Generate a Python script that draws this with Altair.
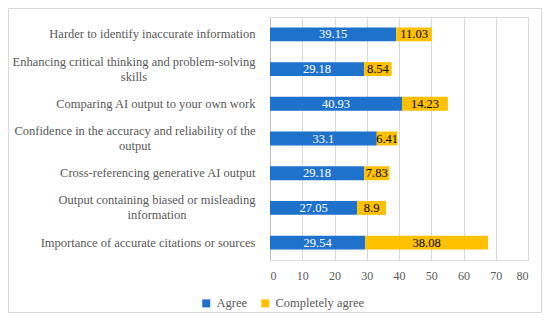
import altair as alt
import pandas as pd

categories = [
    "Harder to identify inaccurate information",
    "Enhancing critical thinking and problem-solving skills",
    "Comparing AI output to your own work",
    "Confidence in the accuracy and reliability of the output",
    "Cross-referencing generative AI output",
    "Output containing biased or misleading information",
    "Importance of accurate citations or sources",
]
agree = [39.15, 29.18, 40.93, 33.1, 29.18, 27.05, 29.54]
completely_agree = [11.03, 8.54, 14.23, 6.41, 7.83, 8.9, 38.08]
series = ["Agree", "Completely agree"]
x_ticks = [0, 10, 20, 30, 40, 50, 60, 70, 80]

wrapped = {
    "Enhancing critical thinking and problem-solving skills": ["Enhancing critical thinking and problem-solving", "skills"],
    "Confidence in the accuracy and reliability of the output": ["Confidence in the accuracy and reliability of the", "output"],
    "Output containing biased or misleading information": ["Output containing biased or misleading", "information"],
}
# label padding that centres a wrapped label block against the right edge
wrapped_pad = {
    "Enhancing critical thinking and problem-solving skills": 136.5,
    "Confidence in the accuracy and reliability of the output": 135.5,
    "Output containing biased or misleading information": 113.5,
}

rows = []
for c, a, ca in zip(categories, agree, completely_agree):
    rows.append({"category": c, "series": series[0], "value": a, "order": 0})
    rows.append({"category": c, "series": series[1], "value": ca, "order": 1})
df = pd.DataFrame(rows)

label_expr = ""
for k, v in wrapped.items():
    label_expr += f"datum.value == '{k}' ? ['{v[0]}', '{v[1]}'] : "
label_expr += "datum.value"
multi_test = " || ".join(f"datum.value == '{k}'" for k in wrapped)

FONT = "'Liberation Serif', 'Times New Roman', serif"
W, H = 258, 243

x_scale = alt.Scale(domain=[0, 80])
y_scale = alt.Scale(paddingInner=0.6, paddingOuter=0.3)

y_axis = alt.Axis(
    labelExpr=label_expr, labelFont=FONT, labelFontSize=12.5,
    labelColor="#595959", ticks=False,
    domainColor="#bfbfbf", labelLimit=300, labelLineHeight=15,
    labelAlign=alt.condition(multi_test, alt.value("center"), alt.value("right")),
    labelPadding={"condition": [{"test": f"datum.value == '{k}'", "value": p}
                                for k, p in wrapped_pad.items()], "value": 15},
    labelOffset=alt.condition(multi_test, alt.value(-7.5), alt.value(0)),
)
x_axis = alt.Axis(values=x_ticks, grid=True, gridColor="#d9d9d9", domain=False,
                  ticks=False, labelFont=FONT, labelFontSize=12,
                  labelColor="#595959", labelPadding=10)

base = alt.Chart(df).transform_stack(
    stack="value", groupby=["category"], as_=["x0", "x1"],
    sort=[alt.SortField("order", order="ascending")]
).transform_calculate(mid="(datum.x0 + datum.x1) / 2")

bars = base.mark_bar().encode(
    x=alt.X("x0:Q", scale=x_scale, title=None, axis=x_axis),
    x2="x1:Q",
    y=alt.Y("category:N", sort=categories, title=None, scale=y_scale, axis=y_axis),
    color=alt.Color("series:N", sort=series,
                    scale=alt.Scale(domain=series, range=["#1F72CB", "#FFC000"]),
                    legend=alt.Legend(title=None, orient="none", direction="horizontal",
                                      legendX=-70, legendY=280, symbolType="square",
                                      symbolSize=64, symbolStrokeWidth=0, labelFont=FONT,
                                      labelFontSize=12.5, labelColor="#595959",
                                      labelOffset=4, columnPadding=11, padding=0)),
)

labels = base.mark_text(font=FONT, fontSize=12.5, baseline="middle", align="center").encode(
    x=alt.X("mid:Q", scale=x_scale, title=None, axis=x_axis),
    y=alt.Y("category:N", sort=categories, title=None, scale=y_scale, axis=y_axis),
    text=alt.Text("value:Q"),
    color=alt.Color("series:N", sort=series,
                    scale=alt.Scale(domain=series, range=["#FFFFFF", "#000000"]),
                    legend=None),
)

border = alt.Chart(pd.DataFrame({"a": [0]})).mark_rect(
    fill="transparent", stroke="#d9d9d9", strokeWidth=1
).encode(x=alt.value(-261.5), x2=alt.value(271.5), y=alt.value(-8.5), y2=alt.value(295.5))

chart = alt.layer(border, bars, labels).resolve_scale(color="independent").properties(
    width=W, height=H,
    autosize=alt.AutoSizeParams(type="none"),
    padding={"left": 262, "top": 9, "right": 14, "bottom": 53},
).configure_view(strokeWidth=0).configure(background="white", font=FONT)

chart.save("out.html", embed_options={"renderer": "svg", "actions": False})
